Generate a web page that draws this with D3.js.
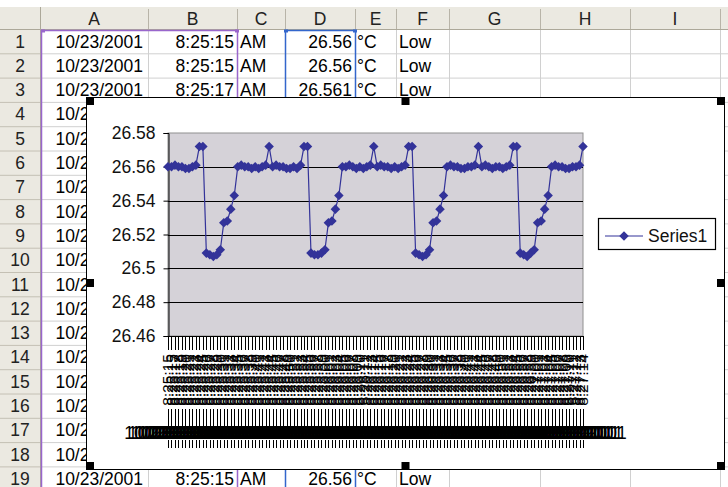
<!DOCTYPE html>
<html><head><meta charset="utf-8">
<script src="https://cdn.jsdelivr.net/npm/d3@7"></script>
<style>
body{margin:0;background:#fff;overflow:hidden}
svg{display:block}
text{font-family:Arial,"Liberation Sans",Helvetica,sans-serif}
</style>
</head><body>
<svg id="c" width="728" height="487"></svg>
<script>
// ---------------- DATA ----------------
const dateLabel = "10/23/2001";
const timeLabels = [
"8:25:15","8:25:15","8:25:17","8:25:18","8:25:19","8:25:20","8:25:21","8:25:22","8:25:23","8:25:24",
"8:25:25","8:25:26","8:25:27","8:25:28","8:25:29","8:25:30","8:25:31","8:25:32","8:25:33","8:25:34",
"8:25:35","8:25:36","8:25:37","8:25:38","8:25:39","8:25:40","8:25:41","8:25:42","8:25:43","8:25:44",
"8:25:45","8:25:46","8:25:47","8:25:48","8:25:49","8:25:50","8:25:51","8:25:52","8:25:53","8:25:54",
"8:25:55","8:25:56","8:25:57","8:25:58","8:25:59","8:26:00","8:26:01","8:26:02","8:26:03","8:26:04",
"8:26:05","8:26:06","8:26:07","8:26:08","8:26:09","8:26:10","8:26:11","8:26:12","8:26:13","8:26:14",
"8:26:15","8:26:16","8:26:17","8:26:18","8:26:19","8:26:20","8:26:21","8:26:22","8:26:23","8:26:24",
"8:26:25","8:26:26","8:26:27","8:26:28","8:26:29","8:26:30","8:26:31","8:26:32","8:26:33","8:26:34",
"8:26:35","8:26:36","8:26:37","8:26:38","8:26:39","8:26:40","8:26:41","8:26:42","8:26:43","8:26:44",
"8:26:45","8:26:46","8:26:47","8:26:48","8:26:49","8:26:50","8:26:51","8:26:52","8:26:53","8:26:54",
"8:26:55","8:26:56","8:26:57","8:26:58","8:26:59","8:27:00","8:27:01","8:27:02","8:27:03","8:27:04",
"8:27:05","8:27:06","8:27:07","8:27:08","8:27:09","8:27:10","8:27:11","8:27:12","8:27:13","8:27:14"
];
const series1 = [
26.560,26.560,26.561,26.560,26.560,26.559,26.559,26.560,26.561,26.572,
26.572,26.509,26.508,26.507,26.508,26.511,26.527,26.528,26.535,26.543,
26.560,26.561,26.560,26.560,26.559,26.560,26.559,26.560,26.561,26.572,
26.560,26.561,26.560,26.560,26.559,26.559,26.560,26.559,26.561,26.572,
26.572,26.509,26.508,26.508,26.509,26.511,26.527,26.528,26.535,26.543,
26.560,26.560,26.561,26.560,26.559,26.560,26.559,26.560,26.561,26.572,
26.560,26.561,26.560,26.560,26.559,26.560,26.559,26.560,26.561,26.572,
26.572,26.509,26.508,26.507,26.508,26.511,26.527,26.528,26.535,26.543,
26.560,26.561,26.560,26.560,26.559,26.559,26.560,26.560,26.561,26.572,
26.560,26.561,26.560,26.559,26.560,26.560,26.559,26.560,26.561,26.572,
26.572,26.509,26.508,26.507,26.509,26.511,26.527,26.528,26.535,26.543,
26.560,26.561,26.560,26.560,26.559,26.559,26.560,26.560,26.561,26.572
];
const yTicks = [26.46,26.48,26.5,26.52,26.54,26.56,26.58];
const seriesName = "Series1";

// spreadsheet contents (background)
const colLetters = ["A","B","C","D","E","F","G","H","I"];
const rowNumbers = d3.range(1,20);
const sheetTimes  = ["8:25:15","8:25:15","8:25:17"];
const sheetValues = ["26.56","26.56","26.561"];
const lastRowTime = "8:25:15", lastRowValue = "26.56";

// ---------------- LAYOUT ----------------
const svg = d3.select("#c");
const colEdges = [0,40,148,237,285,355,396,449,540,630,720,810];
const headTop = 7, headBot = 29, rowH = 24.3;
const rowTop = r => headBot + (r-1)*rowH;
const FS = 17.5;

// sheet
const sheet = svg.append("g");
sheet.append("rect").attr("x",0).attr("y",headTop).attr("width",728).attr("height",headBot-headTop).attr("fill","#ebe9e1");
sheet.append("rect").attr("x",0).attr("y",headTop).attr("width",40).attr("height",487-headTop).attr("fill","#ebe9e1");
rowNumbers.concat([20]).forEach(r=>{
  sheet.append("line").attr("x1",40).attr("x2",728).attr("y1",rowTop(r)+0.5).attr("y2",rowTop(r)+0.5).attr("stroke","#d0d0d0");
  sheet.append("line").attr("x1",0).attr("x2",40).attr("y1",rowTop(r)+0.5).attr("y2",rowTop(r)+0.5).attr("stroke","#c4c0b4");
});
colEdges.slice(1).forEach((x,i)=>{
  sheet.append("line").attr("x1",x+0.5).attr("x2",x+0.5).attr("y1",headBot).attr("y2",487).attr("stroke","#d0d0d0");
  sheet.append("line").attr("x1",x+0.5).attr("x2",x+0.5).attr("y1",headTop+2).attr("y2",headBot).attr("stroke","#b8b4a8");
});
sheet.append("line").attr("x1",0).attr("x2",728).attr("y1",headBot+0.5).attr("y2",headBot+0.5).attr("stroke","#aca899");
sheet.append("line").attr("x1",40.5).attr("x2",40.5).attr("y1",headTop).attr("y2",487).attr("stroke","#aca899");
colLetters.forEach((c,i)=>{
  sheet.append("text").attr("x",(colEdges[i+1]+colEdges[i+2])/2).attr("y",25).attr("text-anchor","middle")
    .attr("font-size",FS).attr("fill","#222").text(c);
});
rowNumbers.forEach(r=>{
  sheet.append("text").attr("x",20).attr("y",rowTop(r)+18.5).attr("text-anchor","middle")
    .attr("font-size",FS).attr("fill","#222").text(r);
});
function rowCells(r, t, v){
  const y = rowTop(r)+18.5;
  sheet.append("text").attr("x",143).attr("y",y).attr("text-anchor","end").attr("font-size",FS).text(dateLabel);
  sheet.append("text").attr("x",234).attr("y",y).attr("text-anchor","end").attr("font-size",FS).text(t);
  sheet.append("text").attr("x",240).attr("y",y).attr("font-size",FS).text("AM");
  sheet.append("text").attr("x",352).attr("y",y).attr("text-anchor","end").attr("font-size",FS).text(v);
  sheet.append("text").attr("x",357).attr("y",y).attr("font-size",FS).text("°C");
  sheet.append("text").attr("x",399).attr("y",y).attr("font-size",FS).text("Low");
}
rowNumbers.forEach(r=>{
  if(r<=3) rowCells(r, sheetTimes[r-1], sheetValues[r-1]);
  else if(r===19) rowCells(r, lastRowTime, lastRowValue);
  else sheet.append("text").attr("x",143).attr("y",rowTop(r)+18.5).attr("text-anchor","end").attr("font-size",FS).text(dateLabel);
});
sheet.append("path").attr("d",`M41.5,487V${headBot+1.5}H237.5V487`).attr("fill","none").attr("stroke","#9966cc").attr("stroke-width",1.5);
sheet.append("path").attr("d",`M285.5,487V${headBot+1.5}H355.5V487`).attr("fill","none").attr("stroke","#3366cc").attr("stroke-width",1.5);
[[41,"#9966cc"],[235,"#9966cc"],[284,"#3366cc"],[353,"#3366cc"]].forEach(([x,c])=>{
  sheet.append("rect").attr("x",x).attr("y",headBot+0.5).attr("width",4).attr("height",3).attr("fill",c);
});

// ---------------- CHART ----------------
const cx0=86, cy0=97, cx1=725, cy1=470;
const chart = svg.append("g");
chart.append("rect").attr("x",cx0+0.5).attr("y",cy0+0.5).attr("width",cx1-cx0-1).attr("height",cy1-cy0-1)
  .attr("fill","#fff").attr("stroke","#000");
const hs=8;
[[cx0,cy0],[(cx0+cx1)/2-hs/2,cy0],[cx1-hs,cy0],[cx0,283-hs/2],[cx1-hs,283-hs/2],[cx0,cy1-hs],[(cx0+cx1)/2-hs/2,cy1-hs],[cx1-hs,cy1-hs]]
 .forEach(([x,y])=>chart.append("rect").attr("x",x).attr("y",y).attr("width",hs).attr("height",hs).attr("fill","#000"));

const pL=168, pR=583, pT=133, pB=336;
const x = d3.scalePoint().domain(d3.range(series1.length)).range([pL,pR]);
const y = d3.scaleLinear().domain([26.46,26.58]).range([pB,pT]);

chart.append("rect").attr("x",pL).attr("y",pT).attr("width",pR-pL).attr("height",pB-pT)
  .attr("fill","#d5d2d8").attr("stroke","#909090");
chart.append("g").selectAll("line").data(yTicks.filter(t=>t>26.46 && t<26.58)).join("line")
  .attr("x1",pL).attr("x2",pR).attr("y1",d=>Math.round(y(d))+0.5).attr("y2",d=>Math.round(y(d))+0.5)
  .attr("stroke","#000");
const yAxis = d3.axisLeft(y).tickValues(yTicks).tickFormat(d=>String(+d.toFixed(2))).tickSize(5).tickPadding(8);
const ga = chart.append("g").attr("transform",`translate(${pL+0.5},0)`).call(yAxis);
ga.select(".domain").attr("stroke","#000");
ga.selectAll("text").attr("font-size",FS).attr("fill","#111").attr("font-family","Arial,'Liberation Sans',sans-serif");
ga.selectAll("line").attr("stroke","#000");
chart.append("line").attr("x1",pL).attr("x2",pR).attr("y1",pB+0.5).attr("y2",pB+0.5).attr("stroke","#000");

// category axis: two-level labels
const cat = chart.append("g");
const idx = d3.range(series1.length);
[[pB,350],[409,427],[440,448]].forEach(([a,b])=>{
  cat.append("g").selectAll("line").data(idx).join("line")
    .attr("x1",d=>Math.round(x(d))+0.5).attr("x2",d=>Math.round(x(d))+0.5).attr("y1",a).attr("y2",b)
    .attr("stroke","#000");
});
cat.append("g").selectAll("text").data(idx).join("text")
  .attr("transform",d=>`translate(${x(d)},380) rotate(-90)`)
  .attr("text-anchor","middle").attr("dy","0.35em").attr("font-size",15.5).attr("font-weight",300).text(d=>timeLabels[d]);
cat.append("g").selectAll("text").data(idx).join("text")
  .attr("x",d=>x(d)).attr("y",439).attr("text-anchor","middle").attr("font-size",FS).text(dateLabel);

// series
const col = "#333399";
chart.append("path").datum(series1).attr("fill","none").attr("stroke",col).attr("stroke-width",1.2)
  .attr("d",d3.line().x((d,i)=>x(i)).y(d=>y(d)));
const diamond = d3.symbol().type(d3.symbolDiamond2).size(58);
chart.append("g").selectAll("path").data(series1).join("path")
  .attr("transform",(d,i)=>`translate(${x(i)},${y(d)})`).attr("d",diamond()).attr("fill",col);

// legend
const lg = chart.append("g");
lg.append("rect").attr("x",598.5).attr("y",218.5).attr("width",117).attr("height",31).attr("fill","#fff").attr("stroke","#000").attr("stroke-width",1.2);
lg.append("line").attr("x1",605).attr("x2",643).attr("y1",236).attr("y2",236).attr("stroke",col).attr("stroke-width",1.2);
lg.append("path").attr("transform","translate(624,236)").attr("d",diamond()).attr("fill",col);
lg.append("text").attr("x",648).attr("y",242).attr("font-size",FS).attr("fill","#111").text(seriesName);
</script>
</body></html>
